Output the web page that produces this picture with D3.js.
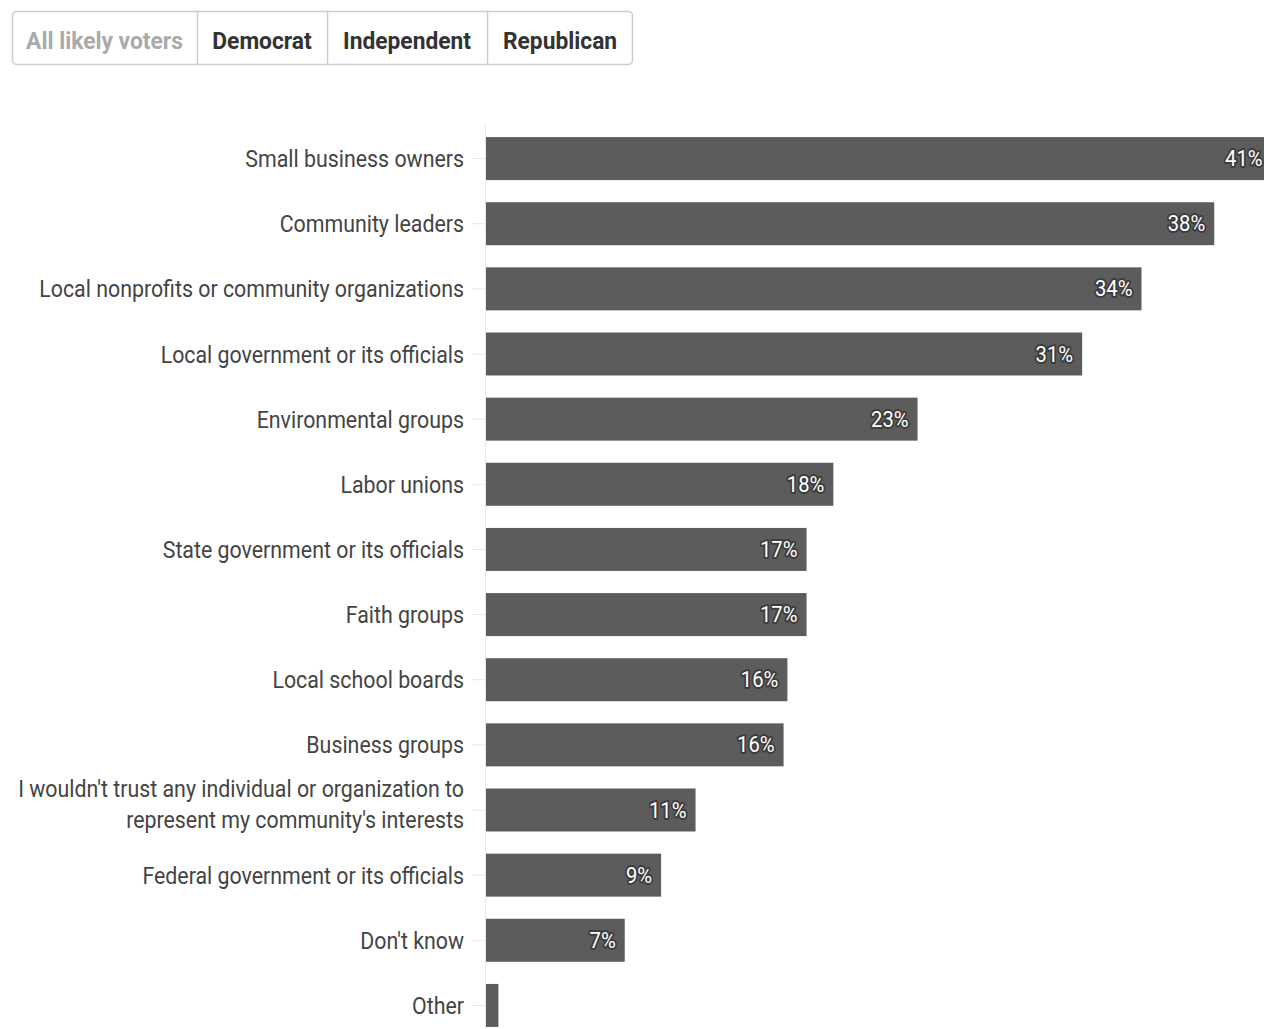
<!DOCTYPE html>
<html><head><meta charset="utf-8">
<script src="https://cdn.jsdelivr.net/npm/d3@7"></script>
<style>
body{margin:0;background:#fff;}
svg{display:block;font-family:Roboto,"Noto Sans",sans-serif;}
</style></head><body>
<svg id="c" width="1264" height="1029"></svg>
<script>
const tabs = ["All likely voters","Democrat","Independent","Republican"];
const categories = [
 "Small business owners","Community leaders","Local nonprofits or community organizations",
 "Local government or its officials","Environmental groups","Labor unions",
 "State government or its officials","Faith groups","Local school boards","Business groups",
 "I wouldn't trust any individual or organization to|represent my community's interests",
 "Federal government or its officials","Don't know","Other"];
const values = [41.1,38.1,34.3,31.2,22.6,18.2,16.8,16.8,15.8,15.6,11.0,9.2,7.3,0.7];

const SX = 0.89;
const svg = d3.select("#c");

// tabs
const tabEdges = [12,197,327,487,633];
const tg = svg.append("g");
tg.append("rect").attr("x",12.5).attr("y",11.5).attr("width",620).attr("height",53)
  .attr("rx",4).attr("fill","#fff").attr("stroke","#ccc").attr("stroke-width",1.5);
tabEdges.slice(1,4).forEach(x=>tg.append("line").attr("x1",x+0.5).attr("x2",x+0.5)
  .attr("y1",12).attr("y2",64).attr("stroke","#ccc").attr("stroke-width",1.5));
tabs.forEach((t,i)=>{
  const cx=(tabEdges[i]+tabEdges[i+1])/2;
  tg.append("text").attr("transform",`translate(${cx},49) scale(0.95,1)`)
    .attr("text-anchor","middle").attr("font-size",24).attr("font-weight",700)
    .attr("fill", i===0?"#aaa":"#333").text(t);
});

const x0=485;
const x = d3.scaleLinear().domain([0,40.7]).range([x0,1264]);
const y = d3.scaleBand().domain(categories).range([126,1038]).paddingInner(0.34).paddingOuter(0.17);

// axis line
svg.append("line").attr("x1",x0+0.5).attr("x2",x0+0.5).attr("y1",125).attr("y2",1029)
  .attr("stroke","#e6e6e6").attr("stroke-width",1);

const g = svg.append("g");
categories.forEach((c,i)=>{
  const cy = y(c)+y.bandwidth()/2;
  g.append("line").attr("x1",472).attr("x2",x0).attr("y1",cy).attr("y2",cy)
    .attr("stroke","#e6e6e6").attr("stroke-width",1);
  const lines=c.split("|");
  const off = lines.length>1 ? -6 : 0;
  const t=g.append("text").attr("transform",`translate(464,${cy+off}) scale(${SX},1)`)
    .attr("text-anchor","end").attr("font-size",24).attr("fill","#444");
  lines.forEach((l,j)=>{
    t.append("tspan").attr("x",0).attr("y",(j-(lines.length-1)/2)*31+8.5).text(l);
  });
  g.append("rect").attr("x",x0+1).attr("y",y(c)).attr("width",x(values[i])-x0-1)
    .attr("height",y.bandwidth()).attr("fill","#5c5c5c");
  if (values[i]>=5){
    g.append("text").attr("transform",`translate(${x(values[i])-9},${cy+7.5}) scale(0.92,1)`)
      .attr("text-anchor","end").attr("font-size",22).attr("fill","#fff")
      .attr("stroke","#3d3d3d").attr("stroke-width",4).attr("stroke-linejoin","round")
      .attr("paint-order","stroke").text(d3.format(".0f")(values[i])+"%");
  }
});
</script></body></html>
